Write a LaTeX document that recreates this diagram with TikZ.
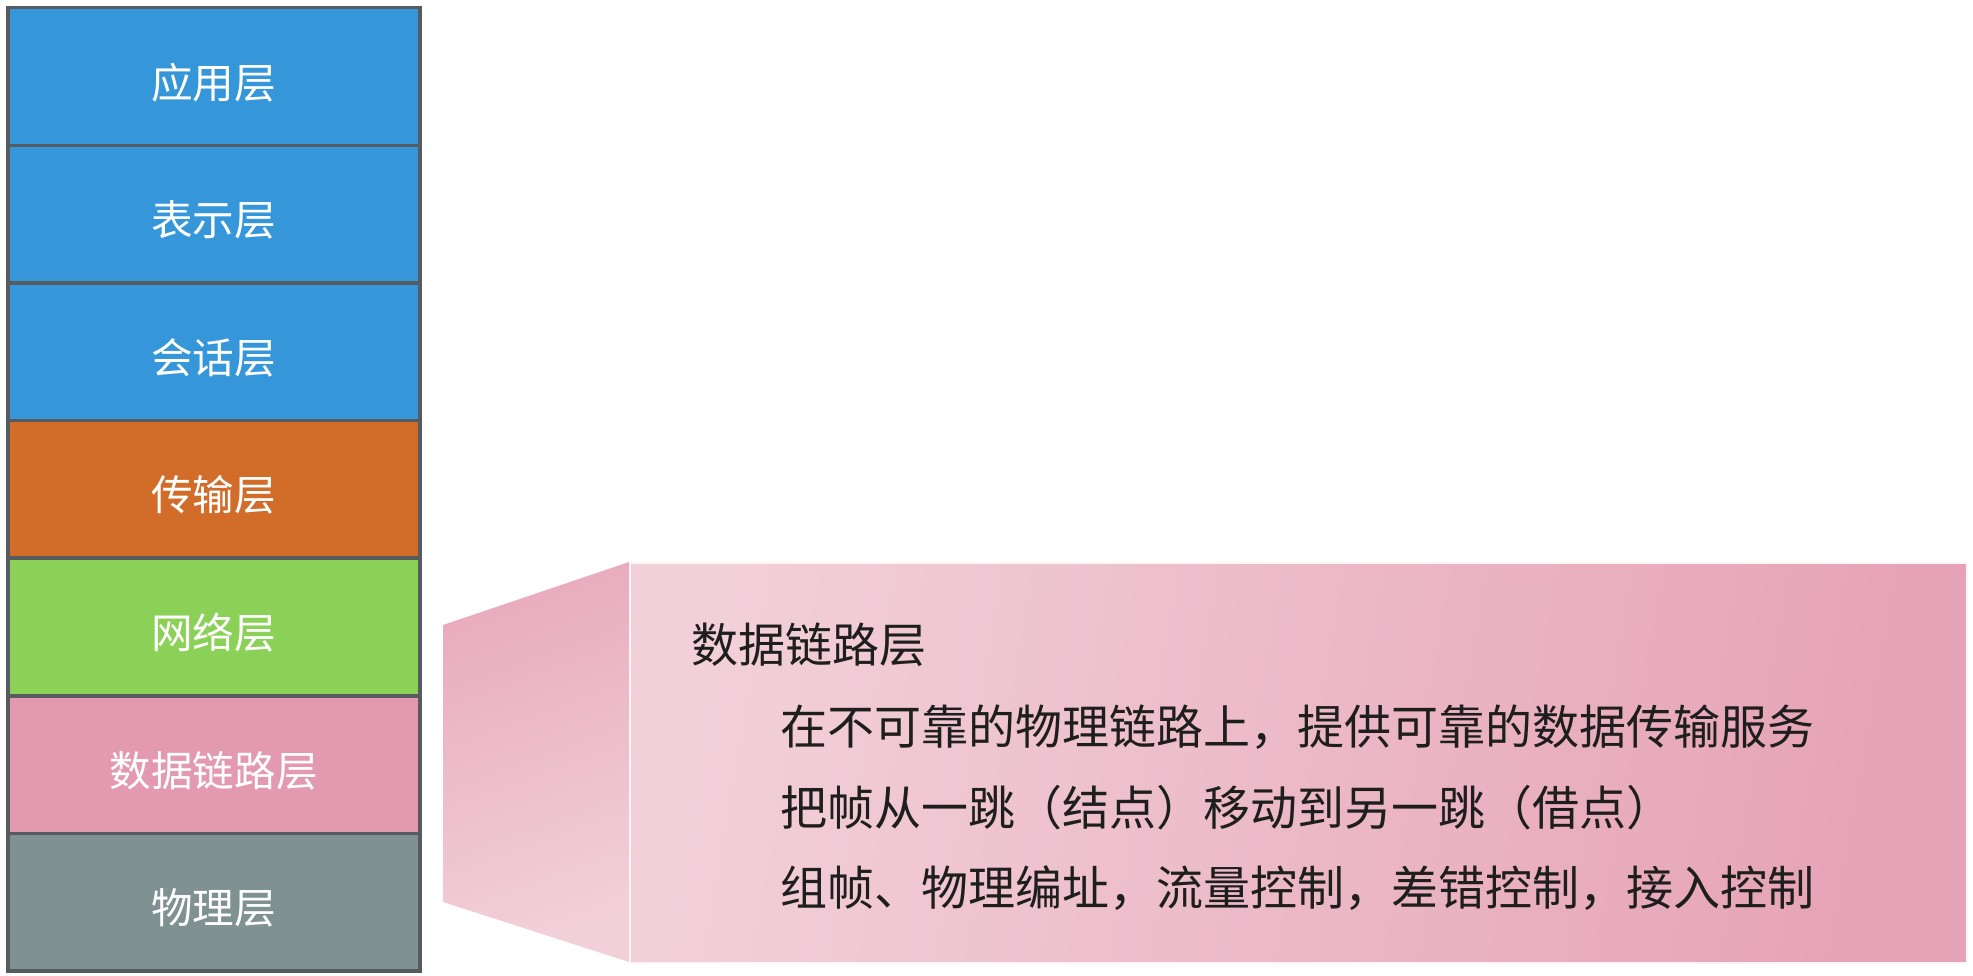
\documentclass[tikz,border=0pt]{standalone}
\usepackage{fontspec}
\setmainfont{Noto Sans CJK SC}
\begin{document}
\begin{tikzpicture}[x=1pt,y=-1pt,
  layer/.style={draw=borderc, line width=3.5pt, minimum width=412pt, minimum height=137.6pt,
    inner sep=0pt, text=white, font=\fontsize{41.6}{41.6}\selectfont, anchor=north west,
    text height=46pt, text depth=3pt},
  desc/.style={anchor=west, inner sep=0pt, text=textc, font=\fontsize{47}{47}\selectfont}]
\definecolor{borderc}{HTML}{565B5F}
\definecolor{bluec}{HTML}{3597DA}
\definecolor{orangec}{HTML}{D16C29}
\definecolor{greenc}{HTML}{8BD158}
\definecolor{pinkc}{HTML}{E39AB0}
\definecolor{grayc}{HTML}{7F9191}
\definecolor{textc}{HTML}{1E1E1E}
\definecolor{lightpink}{HTML}{F2D0DA}
\definecolor{darkpink}{HTML}{E6A2B7}
\useasboundingbox (0,0) rectangle (1973,976);
% callout
\shade[shading=axis, bottom color=lightpink, top color=darkpink!80!lightpink, shading angle=20]
  (443,625) -- (629,562) -- (629,962) -- (443,902) -- cycle;
\node[draw=white!85!pink, line width=1.5pt, minimum width=1337pt, minimum height=400pt, anchor=north west,
  inner sep=0pt, shading=axis, left color=lightpink, right color=darkpink, shading angle=80] (callout) at (629,562) {};
\node[desc] (title) at (691,645) {数据链路层};
\node[desc] (l1) at (780,727) {在不可靠的物理链路上，提供可靠的数据传输服务};
\node[desc] (l2) at (780,808) {把帧从一跳（结点）移动到另一跳（借点）};
\node[desc] (l3) at (780,888) {组帧、物理编址，流量控制，差错控制，接入控制};
% layers
\node[layer, fill=bluec] (app) at (6,6) {应用层};
\node[layer, fill=bluec] (pres) at (6,143.6) {表示层};
\node[layer, fill=bluec] (sess) at (6,281.2) {会话层};
\node[layer, fill=orangec] (trans) at (6,418.8) {传输层};
\node[layer, fill=greenc] (net) at (6,556.4) {网络层};
\node[layer, fill=pinkc] (dl) at (6,694) {数据链路层};
\node[layer, fill=grayc] (phy) at (6,831.6) {物理层};
\end{tikzpicture}
\end{document}
